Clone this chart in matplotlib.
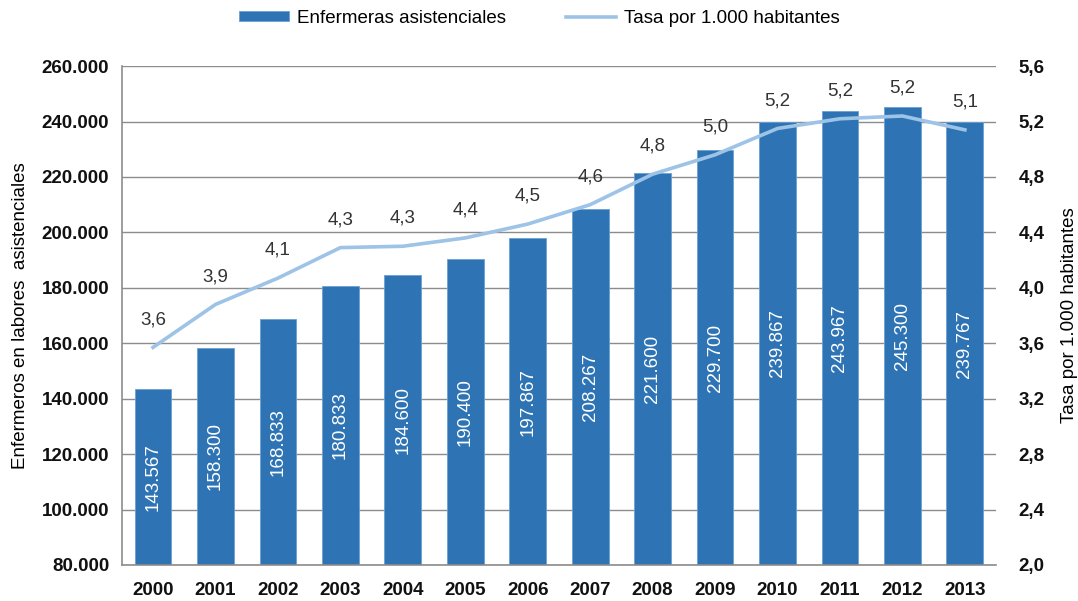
import numpy as np
import matplotlib
matplotlib.use("Agg")
import matplotlib.pyplot as plt
from matplotlib.ticker import FuncFormatter

plt.rcParams['font.family'] = ['Liberation Sans', 'DejaVu Sans']

years = ['2000', '2001', '2002', '2003', '2004', '2005', '2006',
         '2007', '2008', '2009', '2010', '2011', '2012', '2013']
nurses = [143567, 158300, 168833, 180833, 184600, 190400, 197867,
          208267, 221600, 229700, 239867, 243967, 245300, 239767]
rate = [3.57, 3.88, 4.07, 4.29, 4.30, 4.36, 4.46,
        4.60, 4.82, 4.96, 5.15, 5.22, 5.24, 5.14]
rate_labels = ['3,6', '3,9', '4,1', '4,3', '4,3', '4,4', '4,5',
               '4,6', '4,8', '5,0', '5,2', '5,2', '5,2', '5,1']

bar_color = '#2E74B5'
line_color = '#9DC3E6'
grid_color = '#8C8C8C'
fs = 13.5


def miles(v, pos=None):
    return f"{int(round(v)):,}".replace(',', '.')


fig = plt.figure(figsize=(10.78, 6.01), dpi=100)
ax = fig.add_axes([0.113, 0.060, 0.811, 0.830])
ax2 = ax.twinx()

x = np.arange(len(years))
bars = ax.bar(x, nurses, width=0.59, color=bar_color, edgecolor='#6A9FD3',
              linewidth=0.6, zorder=2, label='Enfermeras asistenciales')

ax.set_ylim(80000, 260000)
ax.set_yticks(np.arange(80000, 260001, 20000))
ax.yaxis.set_major_formatter(FuncFormatter(miles))
ax.set_xlim(-0.5, len(years) - 0.5)
ax.set_xticks(x)
ax.set_xticklabels(years)
ax.grid(axis='y', color=grid_color, linewidth=1.0, zorder=0)
ax.set_axisbelow(True)
for s in ['top', 'right']:
    ax.spines[s].set_visible(False)
ax.spines['left'].set_color(grid_color)
ax.spines['bottom'].set_color(grid_color)
ax.spines['left'].set_linewidth(1.2)
ax.spines['bottom'].set_linewidth(1.2)
ax.tick_params(axis='both', length=0, labelsize=fs, colors='#111111')
ax.tick_params(axis='x', pad=12)
ax.tick_params(axis='y', pad=9)
for lab in ax.get_xticklabels() + ax.get_yticklabels():
    lab.set_fontweight('bold')
ax.set_ylabel('Enfermeros en labores  asistenciales', fontsize=fs,
              labelpad=9)

# labels inside bars
for xi, v in zip(x, nurses):
    ax.text(xi, (80000 + v) / 2, miles(v), rotation=90, ha='center',
            va='center', color='white', fontsize=fs, zorder=3)

ax2.plot(x, rate, color=line_color, linewidth=2.6, zorder=4,
         label='Tasa por 1.000 habitantes')
ax2.set_ylim(2.0, 5.6)
ax2.set_yticks(np.arange(2.0, 5.61, 0.4))
ax2.yaxis.set_major_formatter(FuncFormatter(lambda v, p: f"{v:.1f}".replace('.', ',')))
for s in ax2.spines.values():
    s.set_visible(False)
ax2.tick_params(axis='y', length=0, labelsize=fs, colors='#111111', pad=16)
for lab in ax2.get_yticklabels():
    lab.set_fontweight('bold')
ax2.set_ylabel('Tasa por 1.000 habitantes', fontsize=fs, labelpad=12)

for xi, r, t in zip(x, rate, rate_labels):
    ax2.annotate(t, (xi, r), xytext=(0, 20), textcoords='offset points',
                 ha='center', va='center', fontsize=fs, color='#333333')

h1, l1 = ax.get_legend_handles_labels()
h2, l2 = ax2.get_legend_handles_labels()
fig.legend(h1 + h2, l1 + l2, loc='upper center', bbox_to_anchor=(0.5, 1.012),
           ncol=2, frameon=False, fontsize=fs, handlelength=2.7,
           handleheight=0.5, columnspacing=3.2, handletextpad=0.4)

fig.savefig('out.png', dpi=100)
